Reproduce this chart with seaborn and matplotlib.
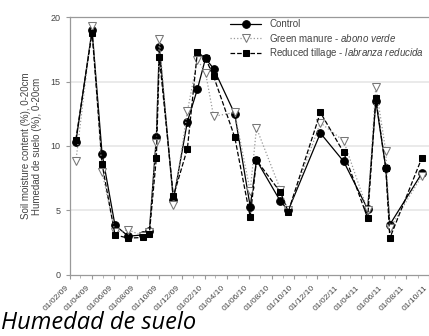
import matplotlib
matplotlib.use("Agg")
import matplotlib.pyplot as plt
import matplotlib.dates as mdates
import matplotlib.transforms as mtransforms
import seaborn as sns
import pandas as pd

# sampling dates and soil moisture (%)
dates = pd.to_datetime([
    "2009-02-17", "2009-04-02", "2009-04-29", "2009-06-03", "2009-07-09",
    "2009-08-18", "2009-09-04", "2009-09-23", "2009-10-01", "2009-11-08",
    "2009-12-16", "2010-01-12", "2010-02-03", "2010-02-25", "2010-04-23",
    "2010-06-04", "2010-06-21", "2010-08-25", "2010-09-15", "2010-12-11",
    "2011-02-12", "2011-04-18", "2011-05-10", "2011-06-06", "2011-06-17",
    "2011-09-12",
])
control = [10.3, 19.0, 9.4, 3.85, 3.0, 3.1, 3.4, 10.7, 17.7, 5.8,
           11.9, 14.4, 16.8, 16.0, 12.5, 5.3, 8.9, 5.7, 5.0, 11.0,
           8.8, 5.1, 13.5, 8.3, 3.9, 7.9]
green_manure = [8.8, 19.3, 8.0, 3.3, 3.5, 3.0, 3.3, 10.2, 18.3, 5.4,
                12.7, 16.7, 15.7, 12.3, 12.6, 6.5, 11.4, 6.6, 5.0, 11.8,
                10.4, 5.0, 14.6, 9.6, 3.6, 7.7]
reduced_tillage = [10.5, 18.8, 8.6, 3.1, 2.85, 2.9, 3.2, 9.1, 16.9, 6.1,
                   9.8, 17.3, 16.8, 15.4, 10.7, 4.5, 8.9, 6.4, 4.9, 12.6,
                   9.5, 4.4, 13.7, 8.3, 2.85, 9.1]

labels = ["Control",
          r"Green manure - $\it{abono\ verde}$",
          r"Reduced tillage - $\it{labranza\ reducida}$"]

sns.set_style("white")
plt.rcParams["font.family"] = ["Liberation Sans", "DejaVu Sans"]
plt.rcParams["mathtext.fontset"] = "custom"
plt.rcParams["mathtext.it"] = "Liberation Sans:italic"
plt.rcParams["mathtext.rm"] = "Liberation Sans"

fig = plt.figure(figsize=(4.29, 3.36), dpi=100)
ax = fig.add_axes([0.163, 0.182, 0.837, 0.767])

txt = "#444444"
sns.lineplot(x=dates, y=control, ax=ax, color="black", linestyle="-",
             linewidth=0.9, marker="o", markersize=5.5, markeredgecolor="black",
             label=labels[0])
sns.lineplot(x=dates, y=green_manure, ax=ax, color="#999999", linestyle=":",
             linewidth=0.9, marker="v", markersize=6, markerfacecolor="white",
             markeredgecolor="#777777", label=labels[1])
sns.lineplot(x=dates, y=reduced_tillage, ax=ax, color="black", linestyle="--",
             linewidth=0.9, marker="s", markersize=5, markeredgecolor="black",
             label=labels[2])

ax.set_ylim(0, 20)
ax.set_yticks([0, 5, 10, 15, 20])
ax.set_xlim(pd.Timestamp("2009-02-01"), pd.Timestamp("2011-10-01"))
ax.xaxis.set_major_locator(mdates.MonthLocator(bymonth=[2, 4, 6, 8, 10, 12]))
ax.xaxis.set_minor_locator(mdates.MonthLocator())
ax.xaxis.set_major_formatter(mdates.DateFormatter("%d/%m/%y"))
for y in [5, 10, 15]:
    ax.axhline(y, color="#e6e6e6", linewidth=1.2, zorder=0)

for s in ax.spines.values():
    s.set_color("#999999")
    s.set_linewidth(0.9)
ax.spines["right"].set_visible(False)

ax.tick_params(axis="y", which="major", direction="out", length=3, width=0.8,
               color="#999999", labelsize=6.5, labelcolor=txt, pad=4, left=True)
ax.tick_params(axis="x", which="major", direction="out", length=3, width=0.8,
               color="#999999", labelsize=6, labelcolor=txt, pad=1, bottom=True)
ax.tick_params(axis="x", which="minor", direction="out", length=2, width=0.6,
               color="#aaaaaa", bottom=True)
shift = mtransforms.ScaledTranslation(-5 / 100, -4 / 100, fig.dpi_scale_trans)
for lab in ax.get_xticklabels():
    lab.set_rotation(45)
    lab.set_ha("right")
    lab.set_rotation_mode("anchor")
    lab.set_transform(lab.get_transform() + shift)

ax.set_xlabel("")
ax.set_ylabel("Soil moisture content (%), 0-20cm\nHumedad de suelo (%), 0-20cm",
              fontsize=7, color=txt, labelpad=6, linespacing=1.05)

leg = ax.legend(loc="upper right", frameon=False, fontsize=7, handlelength=3.2,
                handletextpad=0.8, labelspacing=0.25, borderaxespad=0.1,
                bbox_to_anchor=(1.0, 1.01))
for t in leg.get_texts():
    t.set_color(txt)

fig.text(0.003, 0.022, "Humedad de suelo", fontsize=17, style="italic",
         family=["Open Sans", "DejaVu Sans"], color="black")

fig.savefig("out.png", dpi=100)
